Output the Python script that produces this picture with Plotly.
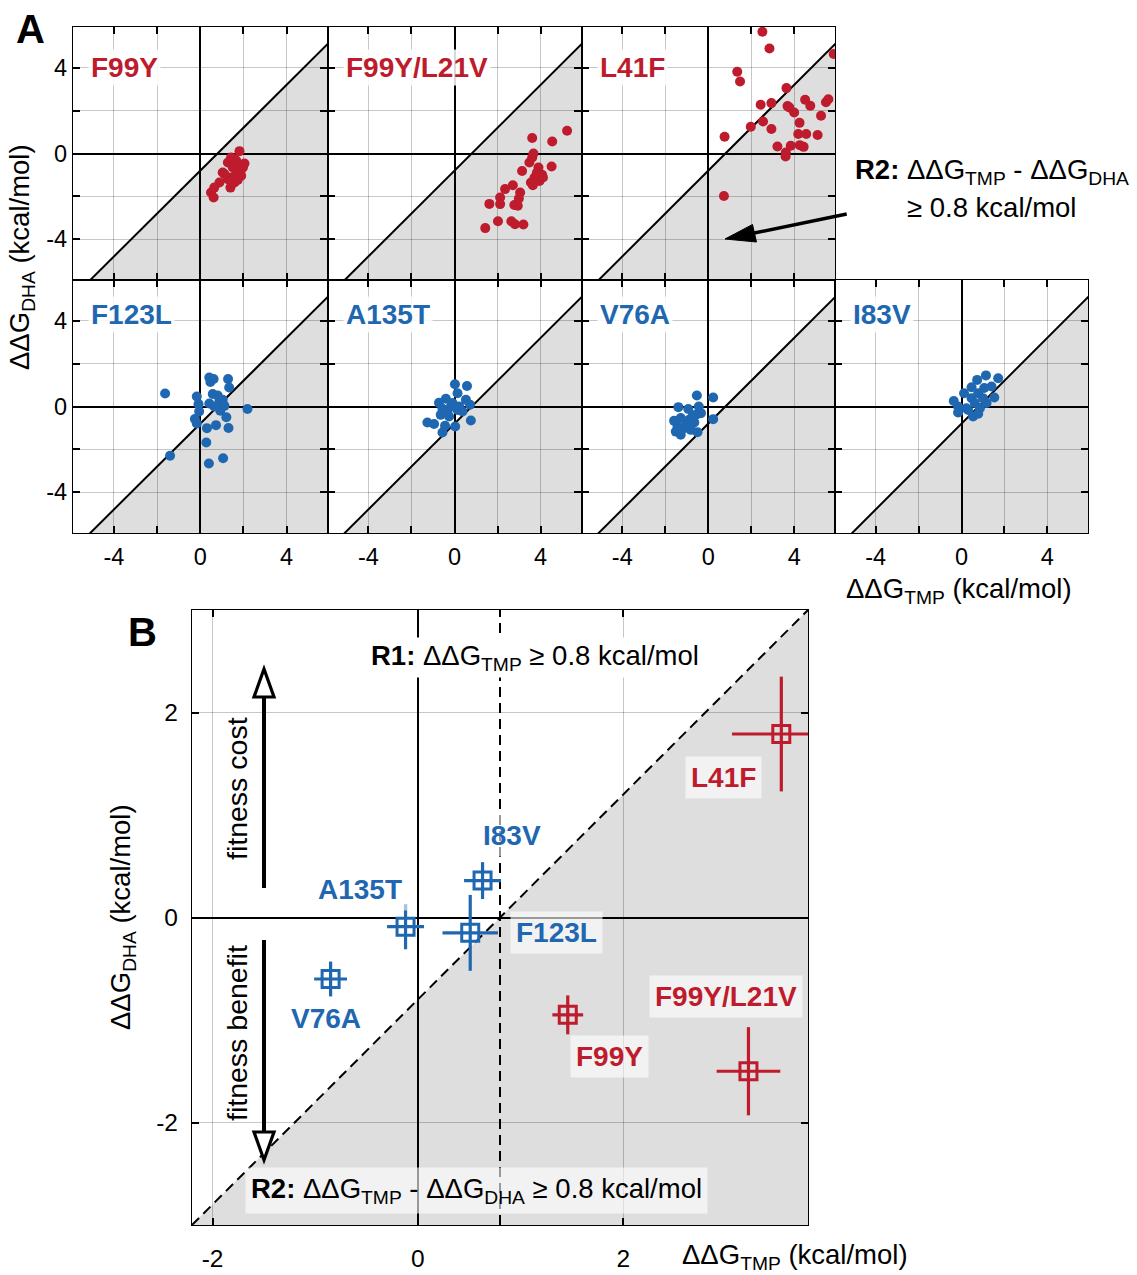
import plotly.graph_objects as go

W, H = 1137, 1275
FONT = "Liberation Sans, Arial, Helvetica, sans-serif"
RED = "#BE1B2D"
BLUE = "#1F68B1"
SHADE = "#DEDEDE"
GRID = "rgba(0,0,0,0.22)"
THRESH = 0.8  # R1 / R2 threshold (kcal/mol)

# ---------------- Panel A data (ddG_TMP, ddG_DHA per sample) ----------------
mutants_A = ["F99Y", "F99Y/L21V", "L41F", "F123L", "A135T", "V76A", "I83V"]
colors_A = [RED, RED, RED, BLUE, BLUE, BLUE, BLUE]

f99y_tmp = [1.82, 1.43, 1.59, 2.05, 1.28, 1.74, 1.04, 1.90, 1.67, 1.43, 1.90, 0.89,
            0.65, 0.50, 0.62, 1.40, 1.59, 1.28, 1.74, 1.51, 1.98, 1.12, 1.82, 1.67]
f99y_dha = [0.11, -0.19, -0.26, -0.47, -0.42, -0.58, -0.89, -0.73, -0.96, -1.12, -1.04, -1.35,
            -1.59, -1.82, -2.05, -1.59, -1.35, -1.20, -1.23, -0.65, -0.65, -0.96, -0.89, -0.34]

f99y_l21v_tmp = [5.23, 4.54, 3.61, 3.67, 3.61, 3.48, 3.90, 4.51, 3.14, 4.07, 3.72, 3.95, 3.55, 3.64, 2.71,
                 2.35, 3.05, 2.12, 2.99, 1.62, 2.12, 2.78, 2.94, 2.02, 2.64, 2.81, 3.20, 1.43, 4.11, 3.83]
f99y_l21v_dha = [1.06, 0.56, 0.72, 0.00, -0.19, -0.42, -0.65, -0.61, -0.82, -0.99, -1.12, -1.28, -1.35, -1.48, -1.48,
                 -1.66, -1.82, -2.05, -2.10, -2.35, -2.36, -2.40, -2.44, -3.16, -3.16, -3.30, -3.31, -3.48, -1.12, -0.89]

l41f_tmp = [2.52, 2.85, 1.35, 1.48, 3.64, 5.84, 2.44, 2.94, 3.69, 4.00, 4.51, 4.75, 5.48, 5.59, 5.25, 2.55,
            1.98, 2.94, 4.25, 4.19, 4.56, 5.09, 0.76, 3.22, 3.84, 4.26, 4.44, 3.61, 3.60, 0.73, 3.77]
l41f_dha = [5.68, 4.90, 3.81, 3.36, 3.05, 4.64, 2.27, 2.35, 2.21, 1.91, 2.51, 2.23, 2.39, 2.53, 1.76, 1.49,
            1.25, 1.14, 1.43, 0.91, 0.91, 0.86, 0.78, 0.33, 0.36, 0.39, 0.31, 0.05, -0.14, -1.98, 2.15]

f123l_tmp = [-1.63, -1.40, 0.42, 0.62, 0.47, 1.29, 1.34, -0.16, 0.58, 0.81, 1.04, 0.42, -0.08, 1.12,
             0.93, 2.19, -0.05, -0.25, -0.16, 1.21, 0.73, 0.31, 1.31, 0.28, 1.06, 0.40, 0.89, 0.65]
f123l_dha = [0.61, -2.30, 1.35, 1.28, 1.14, 1.28, 0.89, 0.47, 0.58, 0.51, 0.31, 0.14, 0.11, 0.03,
             -0.20, -0.12, -0.23, -0.58, -0.79, -0.50, -0.87, -1.01, -1.00, -1.68, -2.41, -2.66, 0.28, 0.00]

a135t_tmp = [0.02, 0.58, 0.14, -0.40, -0.72, 0.53, 0.72, -0.17, -0.56, 0.14, 0.37, -0.64, -0.25, -1.26,
             -0.95, 0.76, 0.03, -0.44, -0.56, -0.09, -0.33, 0.22]
a135t_dha = [1.04, 0.96, 0.62, 0.36, 0.17, 0.31, 0.08, 0.00, -0.11, -0.16, -0.23, -0.39, -0.47, -0.75,
             -0.82, -0.65, -0.93, -0.90, -1.21, 0.16, -0.23, 0.00]

v76a_tmp = [-0.53, 0.23, -1.39, -0.93, -0.44, -0.34, 0.23, -1.59, -1.28, -0.89, -0.65, -1.43, -1.12,
            -0.50, -1.28, -1.51, -0.73, -1.04, -0.81, -0.58]
v76a_dha = [0.51, 0.42, -0.03, -0.12, 0.00, -0.31, -0.59, -0.67, -0.54, -0.62, -0.75, -0.93, -1.01,
            -1.20, -1.32, -1.17, -0.47, -0.86, -1.09, -0.39]

i83v_tmp = [1.14, 1.71, 0.73, 1.40, 0.47, 0.12, 1.06, 0.78, 1.53, -0.36, 0.47, 0.62, 1.17, -0.16,
            0.23, 0.86, -0.16, 0.54, 0.78, 0.31, 1.00]
i83v_dha = [1.45, 1.32, 1.24, 0.93, 0.90, 0.62, 0.86, 0.62, 0.42, 0.26, 0.39, 0.16, 0.16, 0.00,
            -0.08, -0.08, -0.28, -0.47, -0.34, -0.16, 0.39]

data_A = {
    "F99Y": (f99y_tmp, f99y_dha),
    "F99Y/L21V": (f99y_l21v_tmp, f99y_l21v_dha),
    "L41F": (l41f_tmp, l41f_dha),
    "F123L": (f123l_tmp, f123l_dha),
    "A135T": (a135t_tmp, a135t_dha),
    "V76A": (v76a_tmp, v76a_dha),
    "I83V": (i83v_tmp, i83v_dha),
}

tick_vals_A = [-4, -2, 0, 2, 4]
tick_text_A = ["-4", "", "0", "", "4"]

# ---------------- Panel B data (mean +/- error) ----------------
mutants_B = ["L41F", "F99Y/L21V", "F99Y", "I83V", "F123L", "A135T", "V76A"]
colors_B = [RED, RED, RED, BLUE, BLUE, BLUE, BLUE]
tmp_B = [3.54, 3.22, 1.46, 0.63, 0.51, -0.12, -0.85]
dha_B = [1.79, -1.50, -0.95, 0.36, -0.15, -0.09, -0.60]
tmp_err_B = [0.48, 0.31, 0.15, 0.18, 0.27, 0.18, 0.16]
dha_err_B = [0.56, 0.43, 0.19, 0.18, 0.37, 0.22, 0.17]

tick_vals_B = [-2, 0, 2]
tick_text_B = ["-2", "0", "2"]

# ---------------- layout geometry (pixels) ----------------
boxes_A = [(73, 27, 327.5, 280), (327.5, 27, 581.5, 280), (581.5, 27, 835, 280),
           (73, 280, 327.5, 533), (327.5, 280, 581.5, 533), (581.5, 280, 835, 533),
           (835, 280, 1088, 533)]
label_y_A = [4.0, 4.0, 4.0, 4.3, 4.3, 4.3, 4.3]
RANGE_A = [-5.9, 5.9]
box_B = (192, 610, 808, 1225)
RANGE_BX = [-2.2, 3.8]
RANGE_BY = [-3.0, 3.0]
# label offsets (px) relative to each mean marker in panel B
label_shift_B = {
    "L41F": (-58, -43), "F99Y/L21V": (-22, 75), "F99Y": (42, -42), "I83V": (29, 45),
    "F123L": (86, 0), "A135T": (-46, 37), "V76A": (-5, -39),
}

TXT = 27.5   # body text size
LBL = 28     # mutant label size


def pxx(px):
    return px / W


def pxy(py):
    return 1 - py / H


def aid(letter, k):
    return letter if k == 1 else f"{letter}{k}"


def dom(box):
    l, t, r, b = box
    return [l / W, r / W], [1 - b / H, 1 - t / H]


common_axis = dict(showgrid=True, gridcolor=GRID, gridwidth=1,
                   zeroline=True, zerolinecolor="black", zerolinewidth=2,
                   showline=True, linecolor="black", linewidth=1.2, mirror="allticks",
                   ticks="inside", ticklen=7, tickwidth=1.5, tickcolor="black",
                   tickfont=dict(size=23.5, color="black", family=FONT), fixedrange=True)

fig = go.Figure()
layout_axes = {}
shapes = []
annotations = []

for k, name in enumerate(mutants_A, start=1):
    box = boxes_A[k - 1]
    xd, yd = dom(box)
    xa = dict(common_axis, domain=xd, range=RANGE_A, anchor=aid("y", k),
              tickmode="array", tickvals=tick_vals_A, ticktext=tick_text_A,
              showticklabels=(k >= 4), ticklabelstandoff=3)
    ya = dict(common_axis, domain=yd, range=RANGE_A, anchor=aid("x", k),
              tickmode="array", tickvals=tick_vals_A, ticktext=tick_text_A,
              showticklabels=(k in (1, 4)), ticklabelstandoff=0)
    layout_axes["xaxis" if k == 1 else f"xaxis{k}"] = xa
    layout_axes["yaxis" if k == 1 else f"yaxis{k}"] = ya
    lo, hi = RANGE_A
    # shaded region below diagonal y = x - THRESH
    shapes.append(dict(type="path", xref=aid("x", k), yref=aid("y", k), layer="below",
                       path=f"M{lo + THRESH},{lo} L{hi},{hi - THRESH} L{hi},{lo} Z",
                       fillcolor=SHADE, line=dict(width=0)))
    fig.add_trace(go.Scatter(x=[lo - 1, hi + 1], y=[lo - 1 - THRESH, hi + 1 - THRESH],
                             mode="lines", line=dict(color="black", width=2),
                             xaxis=aid("x", k), yaxis=aid("y", k), hoverinfo="skip",
                             showlegend=False))
    xs, ys = data_A[name]
    fig.add_trace(go.Scatter(x=xs, y=ys, mode="markers",
                             marker=dict(size=10, color=colors_A[k - 1], line=dict(width=0)),
                             xaxis=aid("x", k), yaxis=aid("y", k), showlegend=False))
    annotations.append(dict(xref=aid("x", k), yref=aid("y", k), x=-5.2, y=label_y_A[k - 1],
                            text=f"<b>{name}</b>", showarrow=False, xanchor="left", yanchor="middle",
                            font=dict(size=LBL, color=colors_A[k - 1], family=FONT),
                            bgcolor="rgba(255,255,255,0.85)", borderpad=2))

# ---------------- Panel B ----------------
xd, yd = dom(box_B)
layout_axes["xaxis8"] = dict(common_axis, domain=xd, range=RANGE_BX, anchor="y8",
                             tickmode="array", tickvals=tick_vals_B, ticktext=tick_text_B,
                             ticklabelstandoff=11, tickfont=dict(size=24.5, color="black", family=FONT))
layout_axes["yaxis8"] = dict(common_axis, domain=yd, range=RANGE_BY, anchor="x8",
                             tickmode="array", tickvals=tick_vals_B, ticktext=tick_text_B,
                             ticklabelstandoff=8, tickfont=dict(size=24.5, color="black", family=FONT))
bxlo, bxhi = RANGE_BX
bylo, byhi = RANGE_BY
shapes.append(dict(type="path", xref="x8", yref="y8", layer="below",
                   path=f"M{bylo + THRESH},{bylo} L{byhi + THRESH},{byhi} L{bxhi},{byhi} L{bxhi},{bylo} Z",
                   fillcolor=SHADE, line=dict(width=0)))
fig.add_trace(go.Scatter(x=[bylo + THRESH, byhi + THRESH], y=[bylo, byhi], mode="lines",
                         line=dict(color="black", width=2, dash="10px,6px"),
                         xaxis="x8", yaxis="y8", hoverinfo="skip", showlegend=False))
fig.add_trace(go.Scatter(x=[THRESH, THRESH], y=[bylo, byhi], mode="lines",
                         line=dict(color="black", width=2, dash="10px,6px"),
                         xaxis="x8", yaxis="y8", hoverinfo="skip", showlegend=False))

for col in (RED, BLUE):
    idx = [i for i, c in enumerate(colors_B) if c == col]
    fig.add_trace(go.Scatter(
        x=[tmp_B[i] for i in idx], y=[dha_B[i] for i in idx],
        mode="markers", xaxis="x8", yaxis="y8", showlegend=False,
        text=[mutants_B[i] for i in idx],
        marker=dict(symbol="square-open", size=17, color=col, line=dict(width=3, color=col)),
        error_x=dict(type="data", array=[tmp_err_B[i] for i in idx], symmetric=True,
                     thickness=3.2, width=0, color=col),
        error_y=dict(type="data", array=[dha_err_B[i] for i in idx], symmetric=True,
                     thickness=3.2, width=0, color=col),
    ))

for name, x, y, col in zip(mutants_B, tmp_B, dha_B, colors_B):
    dx, dy = label_shift_B[name]
    annotations.append(dict(xref="x8", yref="y8", x=x, y=y, xshift=dx, yshift=dy,
                            xanchor="center", yanchor="middle",
                            text=f"<b>{name}</b>", showarrow=False,
                            font=dict(size=LBL, color=col, family=FONT),
                            bgcolor="rgba(255,255,255,0.6)", borderpad=5))

# ---------------- free text ----------------
def txt(px, py, text, size=TXT, **kw):
    d = dict(xref="paper", yref="paper", x=pxx(px), y=pxy(py), text=text, showarrow=False,
             xanchor="center", yanchor="middle",
             font=dict(size=size, color="black", family=FONT))
    d.update(kw)
    return d

annotations += [
    txt(30, 29, "<b>A</b>", size=40),
    txt(142, 632, "<b>B</b>", size=40),
    txt(22, 257, "ΔΔG<sub>DHA</sub> (kcal/mol)", textangle=-90),
    txt(959, 590, "ΔΔG<sub>TMP</sub> (kcal/mol)"),
    txt(992, 172, "<b>R2:</b> ΔΔG<sub>TMP</sub> - ΔΔG<sub>DHA</sub>"),
    txt(991, 208, "≥ 0.8 kcal/mol"),
    txt(122, 917, "ΔΔG<sub>DHA</sub> (kcal/mol)", textangle=-90),
    txt(795, 1256, "ΔΔG<sub>TMP</sub> (kcal/mol)"),
    txt(535, 657, "<b>R1:</b> ΔΔG<sub>TMP</sub> ≥ 0.8 kcal/mol", bgcolor="white", borderpad=2),
    txt(476, 1190, "<b>R2:</b> ΔΔG<sub>TMP</sub> - ΔΔG<sub>DHA</sub> ≥ 0.8 kcal/mol",
        bgcolor="rgba(255,255,255,0.6)", borderpad=5),
    txt(237, 789, "fitness cost", size=28.5, textangle=-90),
    txt(237, 1033, "fitness benefit", size=28.5, textangle=-90),
]


def line_px(x0, y0, x1, y1, width=4):
    return dict(type="line", xref="paper", yref="paper", x0=pxx(x0), y0=pxy(y0),
                x1=pxx(x1), y1=pxy(y1), line=dict(color="black", width=width), layer="above")


def tri_px(pts, fill, width):
    p = " L".join(f"{pxx(a)},{pxy(b)}" for a, b in pts)
    return dict(type="path", xref="paper", yref="paper", path=f"M{p} Z", fillcolor=fill,
                line=dict(color="black", width=width), layer="above")


# fitness arrows (open heads)
shapes += [
    line_px(264, 888, 264, 697),
    tri_px([(254, 697), (274, 697), (264, 669)], "white", 3.2),
    line_px(264, 940, 264, 1132),
    tri_px([(254, 1132), (274, 1132), (264, 1160)], "white", 3.2),
]
# arrow in panel A pointing at the shaded R2 region
shapes += [
    line_px(846.7, 214, 752, 233.5, width=3.5),
    tri_px([(725, 239), (756.5, 242), (752.5, 224.5)], "black", 1),
]

fig.update_layout(width=W, height=H, autosize=False,
                  margin=dict(l=0, r=0, t=0, b=0),
                  paper_bgcolor="white", plot_bgcolor="white",
                  font=dict(family=FONT, color="black"),
                  shapes=shapes, annotations=annotations, showlegend=False,
                  **layout_axes)

fig.write_html("out.html", config={"displayModeBar": False})
